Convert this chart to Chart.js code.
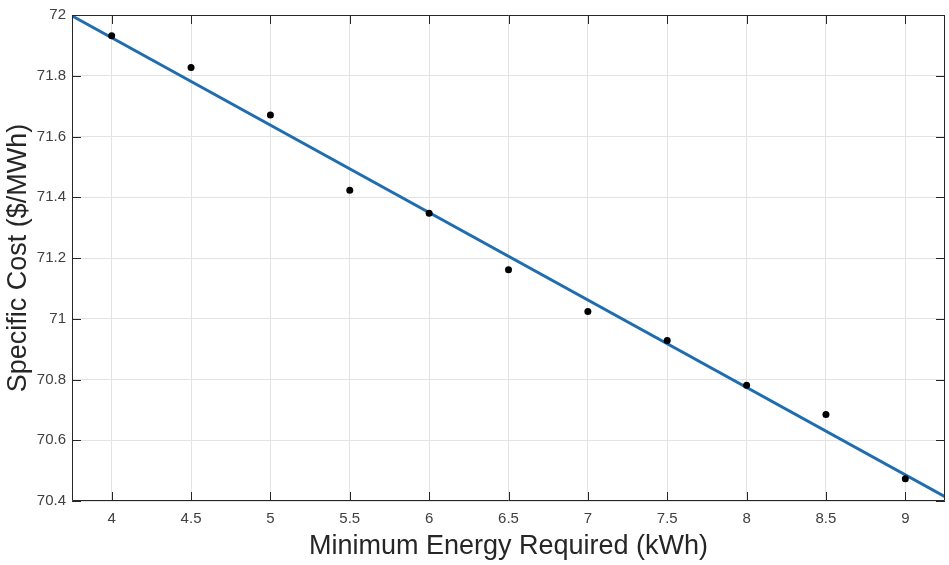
<!DOCTYPE html>
<html>
<head>
<meta charset="utf-8">
<script src="https://cdn.jsdelivr.net/npm/chart.js@4/dist/chart.umd.min.js"></script>
<style>
html,body{margin:0;padding:0;background:#fff;}
canvas{display:block;}
</style>
</head>
<body>
<canvas id="c" width="949" height="565"></canvas>
<script>
// Data
const energyKWh = [4, 4.5, 5, 5.5, 6, 6.5, 7, 7.5, 8, 8.5, 9];
const specificCost = [71.932, 71.827, 71.671, 71.423, 71.347, 71.161, 71.024, 70.928, 70.781, 70.685, 70.473];
const fitX = [3.75, 9.25];
const fitY = [71.997, 70.414];
const xTicks = [4, 4.5, 5, 5.5, 6, 6.5, 7, 7.5, 8, 8.5, 9];
const yTicks = [70.4, 70.6, 70.8, 71, 71.2, 71.4, 71.6, 71.8, 72];
const xLimits = [3.75, 9.25];
const yLimits = [70.4, 72];

const AXIS = '#262626';
const GRID = '#e3e3e3';
const FONT = "'Liberation Sans', Arial, Helvetica, sans-serif";

const boxTicks = {
  id: 'boxTicks',
  afterDatasetsDraw(chart) {
    const {ctx, chartArea: a, scales: {x, y}} = chart;
    const L = 9;
    ctx.save();
    ctx.strokeStyle = AXIS;
    ctx.lineWidth = 1;
    ctx.beginPath();
    ctx.rect(a.left + 0.5, a.top + 0.5, a.right - a.left - 1, a.bottom - a.top - 1);
    ctx.stroke();
    ctx.beginPath();
    xTicks.forEach(v => {
      const px = Math.round(x.getPixelForValue(v)) + 0.5;
      ctx.moveTo(px, a.bottom); ctx.lineTo(px, a.bottom - L);
      ctx.moveTo(px, a.top); ctx.lineTo(px, a.top + L);
    });
    yTicks.forEach(v => {
      const py = Math.round(y.getPixelForValue(v)) + 0.5;
      ctx.moveTo(a.left, py); ctx.lineTo(a.left + L, py);
      ctx.moveTo(a.right, py); ctx.lineTo(a.right - L, py);
    });
    ctx.stroke();
    ctx.restore();
  }
};

const fmt = v => String(parseFloat(Number(v).toFixed(2)));

new Chart(document.getElementById('c'), {
  type: 'scatter',
  data: {
    datasets: [
      {
        type: 'line',
        data: fitX.map((v, i) => ({x: v, y: fitY[i]})),
        borderColor: '#1f6db1',
        borderWidth: 3,
        pointRadius: 0,
        fill: false,
        order: 1
      },
      {
        data: energyKWh.map((v, i) => ({x: v, y: specificCost[i]})),
        backgroundColor: '#000',
        borderColor: '#000',
        pointRadius: 3.5,
        borderWidth: 0,
        order: 0
      }
    ]
  },
  plugins: [boxTicks],
  options: {
    responsive: false,
    animation: false,
    devicePixelRatio: 1,
    layout: {padding: {top: 10, right: 3, left: 0, bottom: 0}},
    plugins: {legend: {display: false}, tooltip: {enabled: false}},
    scales: {
      x: {
        type: 'linear',
        min: xLimits[0], max: xLimits[1],
        afterBuildTicks: s => { s.ticks = xTicks.map(v => ({value: v})); },
        afterFit: s => { s.height = 64; },
        grid: {color: GRID, drawTicks: false, lineWidth: 1},
        border: {display: false},
        ticks: {color: '#404040', font: {family: FONT, size: 15}, padding: 9, maxRotation: 0, callback: fmt},
        title: {display: true, text: 'Minimum Energy Required (kWh)', color: AXIS, font: {family: FONT, size: 27}, padding: {top: 0, bottom: 2}}
      },
      y: {
        type: 'linear',
        min: yLimits[0], max: yLimits[1],
        afterBuildTicks: s => { s.ticks = yTicks.map(v => ({value: v})); },
        afterFit: s => { s.width = 72; },
        grid: {color: GRID, drawTicks: false, lineWidth: 1},
        border: {display: false},
        ticks: {color: '#404040', font: {family: FONT, size: 15}, padding: 6, callback: fmt},
        title: {display: true, text: 'Specific Cost ($/MWh)', color: AXIS, font: {family: FONT, size: 27}, padding: {top: 2, bottom: 0}}
      }
    }
  }
});
</script>
</body>
</html>
